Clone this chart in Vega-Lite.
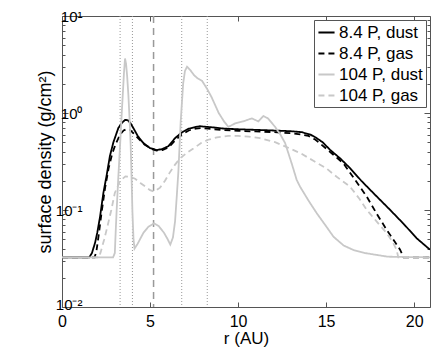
{
  "$schema": "https://vega.github.io/schema/vega-lite/v6.json",
  "width": 368,
  "height": 291,
  "autosize": {"type": "none"},
  "padding": {"left": 62, "top": 16, "right": 6, "bottom": 40},
  "background": "white",
  "config": {
    "view": {"stroke": "#555", "strokeWidth": 1},
    "font": "Liberation Sans",
    "axis": {
      "domain": false,
      "grid": false,
      "tickColor": "#555",
      "labelColor": "#000",
      "labelFont": "Liberation Sans",
      "labelFontSize": 16,
      "titleFont": "Liberation Sans",
      "titleFontSize": 17,
      "titleFontWeight": "normal",
      "titleColor": "#000",
      "labelOverlap": false,
      "labelFlush": false
    },
    "legend": {
      "orient": "top-right",
      "offset": 4,
      "fillColor": "white",
      "strokeColor": "#555",
      "padding": 3,
      "labelFont": "Liberation Sans",
      "labelFontSize": 17,
      "labelColor": "#000",
      "symbolType": "stroke",
      "symbolSize": 260,
      "symbolStrokeWidth": 2,
      "rowPadding": 3,
      "labelOffset": 3
    }
  },
  "layer": [
    {
      "data": {"values": [
        {"x": 3.3, "k": "dot"}, {"x": 4.0, "k": "dot"}, {"x": 6.8, "k": "dot"}, {"x": 8.25, "k": "dot"}
      ]},
      "mark": {"type": "rule", "color": "#999", "strokeWidth": 1, "strokeDash": [1, 2]},
      "encoding": {
        "x": {"field": "x", "type": "quantitative",
              "axis": {"orient": "top", "values": [0, 5, 10, 15, 20], "labels": false, "tickSize": -5, "title": null}}
      }
    },
    {
      "data": {"values": [{"x": 5.2}]},
      "mark": {"type": "rule", "color": "#999", "strokeWidth": 1.5, "strokeDash": [7, 5]},
      "encoding": {
        "x": {"field": "x", "type": "quantitative", "axis": null}
      }
    },
    {
      "data": {"values": [{"v": 1}]},
      "mark": {"type": "rule", "opacity": 0},
      "encoding": {
        "y": {"field": "v", "type": "quantitative",
              "axis": {"orient": "right", "labels": false, "title": null,
                       "values": [0.01,0.02,0.03,0.04,0.05,0.06,0.07,0.08,0.09,0.1,0.2,0.3,0.4,0.5,0.6,0.7,0.8,0.9,1,2,3,4,5,6,7,8,9,10],
                       "tickSize": {"condition": {"test": "datum.value==0.01||datum.value==0.1||datum.value==1||datum.value==10", "value": -6}, "value": -3}}}
      }
    },
    {
      "data": {"values": [
        {"s":"8.4 P, dust","r":0,"v":0.0325},{"s":"8.4 P, dust","r":1.55,"v":0.0325},{"s":"8.4 P, dust","r":1.7,"v":0.036},{"s":"8.4 P, dust","r":1.88,"v":0.046},{"s":"8.4 P, dust","r":2.0,"v":0.058},{"s":"8.4 P, dust","r":2.16,"v":0.085},{"s":"8.4 P, dust","r":2.35,"v":0.15},{"s":"8.4 P, dust","r":2.54,"v":0.23},{"s":"8.4 P, dust","r":2.72,"v":0.36},{"s":"8.4 P, dust","r":2.92,"v":0.5},{"s":"8.4 P, dust","r":3.2,"v":0.7},{"s":"8.4 P, dust","r":3.4,"v":0.79},{"s":"8.4 P, dust","r":3.58,"v":0.85},{"s":"8.4 P, dust","r":3.75,"v":0.84},{"s":"8.4 P, dust","r":3.9,"v":0.78},{"s":"8.4 P, dust","r":4.05,"v":0.7},{"s":"8.4 P, dust","r":4.3,"v":0.58},{"s":"8.4 P, dust","r":4.62,"v":0.49},{"s":"8.4 P, dust","r":5.0,"v":0.435},{"s":"8.4 P, dust","r":5.38,"v":0.415},{"s":"8.4 P, dust","r":5.7,"v":0.425},{"s":"8.4 P, dust","r":6.04,"v":0.455},{"s":"8.4 P, dust","r":6.42,"v":0.55},{"s":"8.4 P, dust","r":6.8,"v":0.63},{"s":"8.4 P, dust","r":7.2,"v":0.69},{"s":"8.4 P, dust","r":7.6,"v":0.72},{"s":"8.4 P, dust","r":7.84,"v":0.73},{"s":"8.4 P, dust","r":8.2,"v":0.72},{"s":"8.4 P, dust","r":8.6,"v":0.71},{"s":"8.4 P, dust","r":9.2,"v":0.69},{"s":"8.4 P, dust","r":10,"v":0.68},{"s":"8.4 P, dust","r":11,"v":0.67},{"s":"8.4 P, dust","r":12,"v":0.66},{"s":"8.4 P, dust","r":12.95,"v":0.65},{"s":"8.4 P, dust","r":13.6,"v":0.635},{"s":"8.4 P, dust","r":14.1,"v":0.6},{"s":"8.4 P, dust","r":14.4,"v":0.56},{"s":"8.4 P, dust","r":14.8,"v":0.5},{"s":"8.4 P, dust","r":15.23,"v":0.416},{"s":"8.4 P, dust","r":15.8,"v":0.34},{"s":"8.4 P, dust","r":16.36,"v":0.27},{"s":"8.4 P, dust","r":17.0,"v":0.2},{"s":"8.4 P, dust","r":17.69,"v":0.149},{"s":"8.4 P, dust","r":18.64,"v":0.1},{"s":"8.4 P, dust","r":19.4,"v":0.072},{"s":"8.4 P, dust","r":20.15,"v":0.051},{"s":"8.4 P, dust","r":20.9,"v":0.039},

        {"s":"8.4 P, gas","r":0,"v":0.0325},{"s":"8.4 P, gas","r":1.85,"v":0.0325},{"s":"8.4 P, gas","r":1.95,"v":0.037},{"s":"8.4 P, gas","r":2.1,"v":0.058},{"s":"8.4 P, gas","r":2.25,"v":0.095},{"s":"8.4 P, gas","r":2.45,"v":0.17},{"s":"8.4 P, gas","r":2.65,"v":0.27},{"s":"8.4 P, gas","r":2.85,"v":0.38},{"s":"8.4 P, gas","r":3.05,"v":0.48},{"s":"8.4 P, gas","r":3.3,"v":0.6},{"s":"8.4 P, gas","r":3.5,"v":0.66},{"s":"8.4 P, gas","r":3.65,"v":0.68},{"s":"8.4 P, gas","r":3.85,"v":0.67},{"s":"8.4 P, gas","r":4.1,"v":0.61},{"s":"8.4 P, gas","r":4.4,"v":0.53},{"s":"8.4 P, gas","r":4.7,"v":0.47},{"s":"8.4 P, gas","r":5.1,"v":0.425},{"s":"8.4 P, gas","r":5.38,"v":0.41},{"s":"8.4 P, gas","r":5.7,"v":0.415},{"s":"8.4 P, gas","r":6.04,"v":0.44},{"s":"8.4 P, gas","r":6.42,"v":0.52},{"s":"8.4 P, gas","r":6.8,"v":0.6},{"s":"8.4 P, gas","r":7.2,"v":0.66},{"s":"8.4 P, gas","r":7.6,"v":0.69},{"s":"8.4 P, gas","r":7.9,"v":0.7},{"s":"8.4 P, gas","r":8.3,"v":0.69},{"s":"8.4 P, gas","r":9,"v":0.67},{"s":"8.4 P, gas","r":10,"v":0.655},{"s":"8.4 P, gas","r":11,"v":0.645},{"s":"8.4 P, gas","r":12,"v":0.635},{"s":"8.4 P, gas","r":12.95,"v":0.62},{"s":"8.4 P, gas","r":13.6,"v":0.6},{"s":"8.4 P, gas","r":14.0,"v":0.58},{"s":"8.4 P, gas","r":14.4,"v":0.53},{"s":"8.4 P, gas","r":15.0,"v":0.43},{"s":"8.4 P, gas","r":15.5,"v":0.36},{"s":"8.4 P, gas","r":15.98,"v":0.303},{"s":"8.4 P, gas","r":16.6,"v":0.21},{"s":"8.4 P, gas","r":17.31,"v":0.137},{"s":"8.4 P, gas","r":17.9,"v":0.09},{"s":"8.4 P, gas","r":18.45,"v":0.062},{"s":"8.4 P, gas","r":18.8,"v":0.05},{"s":"8.4 P, gas","r":19.2,"v":0.039},{"s":"8.4 P, gas","r":19.4,"v":0.0325},{"s":"8.4 P, gas","r":20.9,"v":0.0325},

        {"s":"104 P, dust","r":0,"v":0.0325},{"s":"104 P, dust","r":2.9,"v":0.0325},{"s":"104 P, dust","r":3.0,"v":0.036},{"s":"104 P, dust","r":3.05,"v":0.06},{"s":"104 P, dust","r":3.1,"v":0.096},{"s":"104 P, dust","r":3.2,"v":0.22},{"s":"104 P, dust","r":3.3,"v":0.47},{"s":"104 P, dust","r":3.38,"v":0.9},{"s":"104 P, dust","r":3.45,"v":1.53},{"s":"104 P, dust","r":3.52,"v":2.6},{"s":"104 P, dust","r":3.58,"v":3.65},{"s":"104 P, dust","r":3.64,"v":3.2},{"s":"104 P, dust","r":3.7,"v":2.4},{"s":"104 P, dust","r":3.77,"v":1.53},{"s":"104 P, dust","r":3.84,"v":0.85},{"s":"104 P, dust","r":3.9,"v":0.47},{"s":"104 P, dust","r":3.95,"v":0.22},{"s":"104 P, dust","r":4.0,"v":0.096},{"s":"104 P, dust","r":4.06,"v":0.05},{"s":"104 P, dust","r":4.12,"v":0.04},{"s":"104 P, dust","r":4.3,"v":0.045},{"s":"104 P, dust","r":4.62,"v":0.058},{"s":"104 P, dust","r":4.9,"v":0.067},{"s":"104 P, dust","r":5.23,"v":0.073},{"s":"104 P, dust","r":5.5,"v":0.068},{"s":"104 P, dust","r":5.8,"v":0.058},{"s":"104 P, dust","r":6.0,"v":0.05},{"s":"104 P, dust","r":6.15,"v":0.044},{"s":"104 P, dust","r":6.3,"v":0.052},{"s":"104 P, dust","r":6.42,"v":0.076},{"s":"104 P, dust","r":6.52,"v":0.14},{"s":"104 P, dust","r":6.61,"v":0.25},{"s":"104 P, dust","r":6.74,"v":0.81},{"s":"104 P, dust","r":6.88,"v":2.0},{"s":"104 P, dust","r":6.98,"v":2.7},{"s":"104 P, dust","r":7.1,"v":3.0},{"s":"104 P, dust","r":7.3,"v":2.75},{"s":"104 P, dust","r":7.5,"v":2.45},{"s":"104 P, dust","r":7.7,"v":2.28},{"s":"104 P, dust","r":7.95,"v":2.15},{"s":"104 P, dust","r":8.22,"v":1.8},{"s":"104 P, dust","r":8.5,"v":1.45},{"s":"104 P, dust","r":8.9,"v":1.0},{"s":"104 P, dust","r":9.2,"v":0.82},{"s":"104 P, dust","r":9.45,"v":0.72},{"s":"104 P, dust","r":9.83,"v":0.78},{"s":"104 P, dust","r":10.3,"v":0.82},{"s":"104 P, dust","r":10.78,"v":0.88},{"s":"104 P, dust","r":11.15,"v":0.82},{"s":"104 P, dust","r":11.44,"v":0.93},{"s":"104 P, dust","r":11.7,"v":0.88},{"s":"104 P, dust","r":12.1,"v":0.72},{"s":"104 P, dust","r":12.4,"v":0.6},{"s":"104 P, dust","r":12.67,"v":0.49},{"s":"104 P, dust","r":13.05,"v":0.3},{"s":"104 P, dust","r":13.33,"v":0.204},{"s":"104 P, dust","r":13.52,"v":0.174},{"s":"104 P, dust","r":14.0,"v":0.125},{"s":"104 P, dust","r":14.47,"v":0.0925},{"s":"104 P, dust","r":15.0,"v":0.068},{"s":"104 P, dust","r":15.42,"v":0.053},{"s":"104 P, dust","r":16.0,"v":0.043},{"s":"104 P, dust","r":16.55,"v":0.0387},{"s":"104 P, dust","r":17.2,"v":0.036},{"s":"104 P, dust","r":17.88,"v":0.0344},{"s":"104 P, dust","r":18.5,"v":0.033},{"s":"104 P, dust","r":20.9,"v":0.0325},

        {"s":"104 P, gas","r":0,"v":0.0325},{"s":"104 P, gas","r":2.1,"v":0.0325},{"s":"104 P, gas","r":2.2,"v":0.037},{"s":"104 P, gas","r":2.4,"v":0.05},{"s":"104 P, gas","r":2.6,"v":0.07},{"s":"104 P, gas","r":2.8,"v":0.1},{"s":"104 P, gas","r":3.0,"v":0.15},{"s":"104 P, gas","r":3.3,"v":0.2},{"s":"104 P, gas","r":3.6,"v":0.222},{"s":"104 P, gas","r":3.86,"v":0.22},{"s":"104 P, gas","r":4.15,"v":0.21},{"s":"104 P, gas","r":4.45,"v":0.19},{"s":"104 P, gas","r":4.72,"v":0.175},{"s":"104 P, gas","r":5.0,"v":0.16},{"s":"104 P, gas","r":5.23,"v":0.155},{"s":"104 P, gas","r":5.57,"v":0.17},{"s":"104 P, gas","r":5.85,"v":0.2},{"s":"104 P, gas","r":6.1,"v":0.24},{"s":"104 P, gas","r":6.4,"v":0.29},{"s":"104 P, gas","r":6.7,"v":0.34},{"s":"104 P, gas","r":7.1,"v":0.39},{"s":"104 P, gas","r":7.46,"v":0.43},{"s":"104 P, gas","r":7.9,"v":0.49},{"s":"104 P, gas","r":8.3,"v":0.53},{"s":"104 P, gas","r":8.8,"v":0.56},{"s":"104 P, gas","r":9.45,"v":0.58},{"s":"104 P, gas","r":10.0,"v":0.58},{"s":"104 P, gas","r":10.6,"v":0.57},{"s":"104 P, gas","r":11.25,"v":0.55},{"s":"104 P, gas","r":12.1,"v":0.5},{"s":"104 P, gas","r":12.95,"v":0.43},{"s":"104 P, gas","r":13.6,"v":0.38},{"s":"104 P, gas","r":14.3,"v":0.32},{"s":"104 P, gas","r":15.0,"v":0.27},{"s":"104 P, gas","r":15.6,"v":0.22},{"s":"104 P, gas","r":16.36,"v":0.174},{"s":"104 P, gas","r":16.9,"v":0.13},{"s":"104 P, gas","r":17.31,"v":0.1},{"s":"104 P, gas","r":17.9,"v":0.075},{"s":"104 P, gas","r":18.45,"v":0.0575},{"s":"104 P, gas","r":18.8,"v":0.046},{"s":"104 P, gas","r":19.0,"v":0.039},{"s":"104 P, gas","r":19.1,"v":0.0325},{"s":"104 P, gas","r":20.9,"v":0.0325}
      ]},
      "mark": {"type": "line", "strokeWidth": 1.8, "clip": true},
      "encoding": {
        "x": {"field": "r", "type": "quantitative",
              "scale": {"domain": [0, 20.9], "nice": false, "zero": false},
              "axis": {"orient": "bottom", "values": [0, 5, 10, 15, 20], "tickSize": -5, "labelPadding": 11, "title": "r (AU)", "titlePadding": 1}},
        "y": {"field": "v", "type": "quantitative",
              "scale": {"type": "log", "domain": [0.01, 10], "nice": false},
              "axis": {"orient": "left", "title": "surface density (g/cm²)", "titlePadding": 1, "titleFontSize": 18,
                       "values": [0.01,0.02,0.03,0.04,0.05,0.06,0.07,0.08,0.09,0.1,0.2,0.3,0.4,0.5,0.6,0.7,0.8,0.9,1,2,3,4,5,6,7,8,9,10],
                       "labelExpr": "datum.value==0.01?'10⁻²':datum.value==0.1?'10⁻¹':datum.value==1?'10⁰':datum.value==10?'10¹':''",
                       "labelPadding": -14, "labelFontSize": 15,
                       "labelOffset": {"condition": {"test": "datum.value==0.01", "value": -3}, "value": 0},
                       "tickSize": {"condition": {"test": "datum.value==0.01||datum.value==0.1||datum.value==1||datum.value==10", "value": -6}, "value": -3}}},
        "color": {"field": "s", "type": "nominal",
                  "scale": {"domain": ["8.4 P, dust", "8.4 P, gas", "104 P, dust", "104 P, gas"], "range": ["#000000", "#000000", "#c8c8c8", "#c8c8c8"]},
                  "legend": {"title": null}},
        "strokeDash": {"field": "s", "type": "nominal",
                  "scale": {"domain": ["8.4 P, dust", "8.4 P, gas", "104 P, dust", "104 P, gas"], "range": [[1, 0], [6, 4], [1, 0], [6, 4]]},
                  "legend": {"title": null}}
      }
    }
  ],
  "resolve": {"axis": {"x": "independent", "y": "independent"}}
}
